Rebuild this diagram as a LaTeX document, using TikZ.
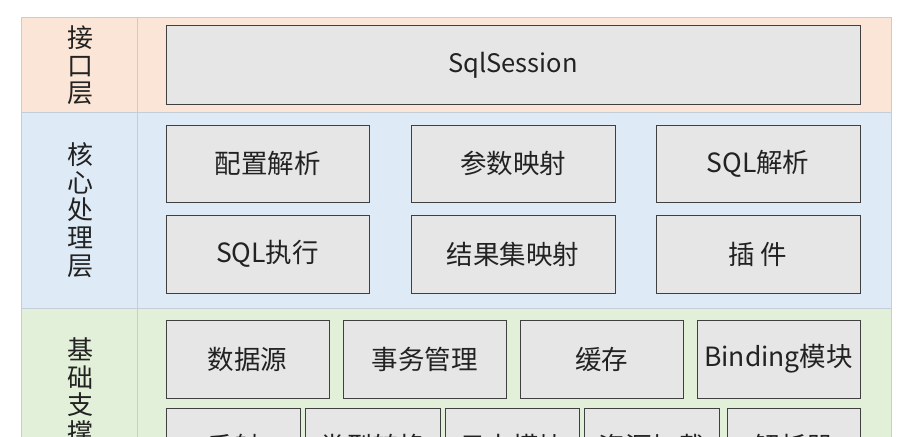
\documentclass[tikz,border=0pt]{standalone}
\usepackage{fontspec}
\setmainfont{Noto Sans CJK SC}
\definecolor{peach}{RGB}{251,229,214}
\definecolor{lblue}{RGB}{222,235,247}
\definecolor{lgreen}{RGB}{226,240,217}
\definecolor{boxfill}{RGB}{231,230,230}
\definecolor{boxline}{RGB}{64,64,64}
\definecolor{layerline}{RGB}{196,206,216}
\definecolor{txt}{RGB}{34,34,34}
\begin{document}
\begin{tikzpicture}[x=1pt,y=-1pt,
  box/.style={draw=boxline, line width=1pt, fill=boxfill, text=txt,
    font=\fontsize{26.5}{28}\selectfont, inner sep=0pt},
  bx/.style 2 args={box, minimum width=#1pt, minimum height=#2pt},
  layer/.style={draw=layerline, line width=0.8pt},
  side/.style={text=txt, font=\fontsize{26}{27.7}\selectfont, align=center, inner sep=0pt}]
\useasboundingbox (0,0) rectangle (912,436);
\clip (0,0) rectangle (912,436);
\fill[white] (0,0) rectangle (912,436);
% layers
\path[layer, fill=peach] (21,17) rectangle (891,112);
\path[layer, fill=lblue] (21,112) rectangle (891,308);
\path[layer, fill=lgreen] (21,308) rectangle (891,520);
\draw[layerline, line width=0.8pt] (137,17) -- (137,520);
% side labels
\node[side] (lif) at (80,65.5) {接\\口\\层};
\node[side] (lcore) at (80,210) {核\\心\\处\\理\\层};
\node[side] (lbase) at (80,405) {基\\础\\支\\撑\\层};
% interface
\node[bx={694}{78}, font=\fontsize{25.5}{27}\selectfont] (sql) at (513,65) {SqlSession};
% core
\node[bx={203}{77}] (cfg) at (267.5,163.5) {配置解析};
\node[bx={204}{77}] (param) at (513,163.5) {参数映射};
\node[bx={204}{77}] (sqlp) at (758,163.5) {SQL解析};
\node[bx={203}{78}] (exec) at (267.5,254) {SQL执行};
\node[bx={204}{78}] (result) at (513,254) {结果集映射};
\node[bx={204}{78}] (plugin) at (758,254) {插 件};
% base row 1
\node[bx={163}{78}] (ds) at (247.5,359) {数据源};
\node[bx={163}{78}] (tx) at (424.5,359) {事务管理};
\node[bx={163}{78}] (cache) at (601.5,359) {缓存};
\node[bx={163}{78}] (bind) at (778.5,359) {Binding模块};
% base row 2
\node[bx={134}{76}] (refl) at (233,446) {反射};
\node[bx={135}{76}] (conv) at (372.5,446) {类型转换};
\node[bx={134}{76}] (log) at (512,446) {日志模块};
\node[bx={135}{76}] (res) at (651.5,446) {资源加载};
\node[bx={133}{76}] (parser) at (793.5,446) {解析器};
\end{tikzpicture}
\end{document}
